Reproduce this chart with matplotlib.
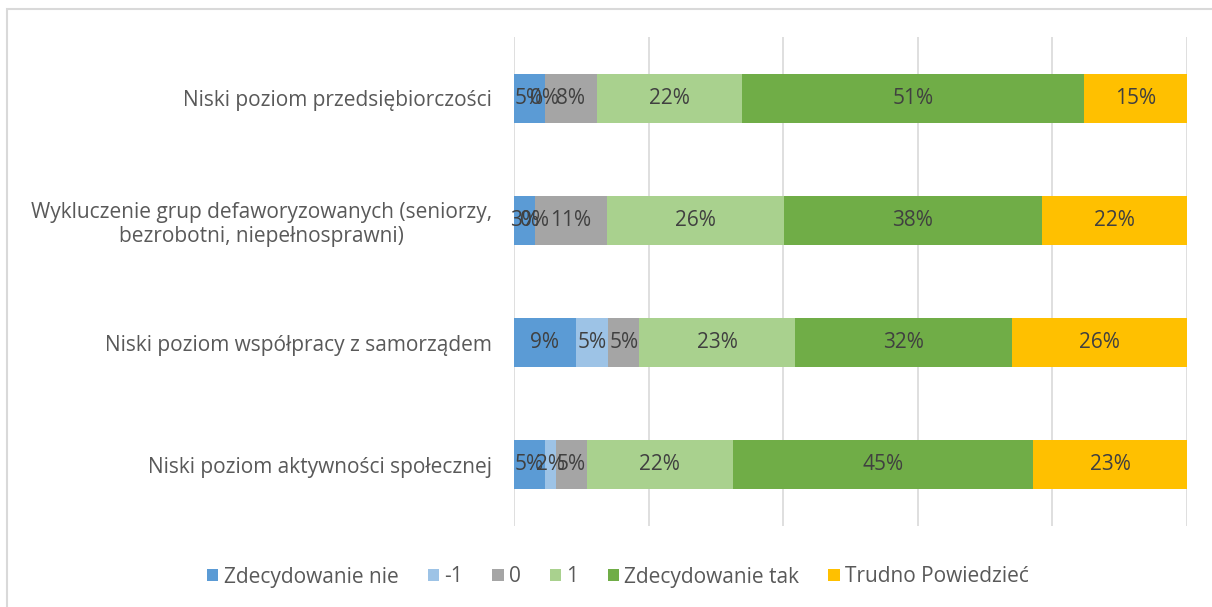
import matplotlib.pyplot as plt
from matplotlib.patches import Rectangle
import numpy as np

categories = [
    "Niski poziom przedsiębiorczości",
    "Wykluczenie grup defaworyzowanych (seniorzy,\nbezrobotni, niepełnosprawni)",
    "Niski poziom współpracy z samorządem",
    "Niski poziom aktywności społecznej",
]
series = ["Zdecydowanie nie", "-1", "0", "1", "Zdecydowanie tak", "Trudno Powiedzieć"]
zdecydowanie_nie = [4.6, 3.1, 9.2, 4.6]
minus_one = [0.0, 0.0, 4.8, 1.6]
zero = [7.7, 10.7, 4.6, 4.6]
one = [21.6, 26.3, 23.2, 21.7]
zdecydowanie_tak = [50.8, 38.3, 32.2, 44.6]
trudno = [15.3, 21.6, 26.0, 22.9]
values = [zdecydowanie_nie, minus_one, zero, one, zdecydowanie_tak, trudno]
colors = ["#5B9BD5", "#9DC3E6", "#A5A5A5", "#A9D18E", "#70AD47", "#FFC000"]

plt.rcParams['font.family'] = ['Open Sans', 'DejaVu Sans']
text_color = "#595959"
fs = 15

fig = plt.figure(figsize=(12.12, 6.07), dpi=100)
# chart area border (cropped on the right and bottom)
fig.patches.append(Rectangle((7 / 1212, -0.1), 1.2, 1.1 - 9 / 607, transform=fig.transFigure,
                             fill=False, edgecolor="#D9D9D9", linewidth=1.5))
ax = fig.add_axes([514 / 1212, 1 - 526 / 607, (1187 - 514) / 1212, (526 - 37) / 607])

y = np.arange(len(categories))
left = np.zeros(len(categories))
for name, vals, col in zip(series, values, colors):
    vals = np.array(vals)
    ax.barh(y, vals, left=left, height=0.4, color=col, label=name, zorder=2)
    for yi, l, v in zip(y, left, vals):
        ax.text(l + v / 2, yi, f"{v:.0f}%", ha='center', va='center',
                fontsize=fs, color="#404040", zorder=3)
    left += vals

ax.set_xlim(0, 100)
ax.set_ylim(len(categories) - 0.5, -0.5)
ax.set_xticks([0, 20, 40, 60, 80, 100])
ax.set_xticklabels([])
ax.tick_params(axis='x', length=0)
ax.tick_params(axis='y', length=0, pad=16)
ax.set_yticks(y)
ax.set_yticklabels(categories, fontsize=fs, color=text_color, multialignment='center')
ax.grid(axis='x', color="#D9D9D9", linewidth=1.2, zorder=0)
for s in ax.spines.values():
    s.set_visible(False)

fig.legend(loc='center', bbox_to_anchor=(618 / 1212, 1 - 577 / 607), ncol=6,
           frameon=False, fontsize=fs, labelcolor=text_color,
           handlelength=0.55, handleheight=0.55, handletextpad=0.25, columnspacing=1.4)

fig.savefig("out.png", dpi=100)
